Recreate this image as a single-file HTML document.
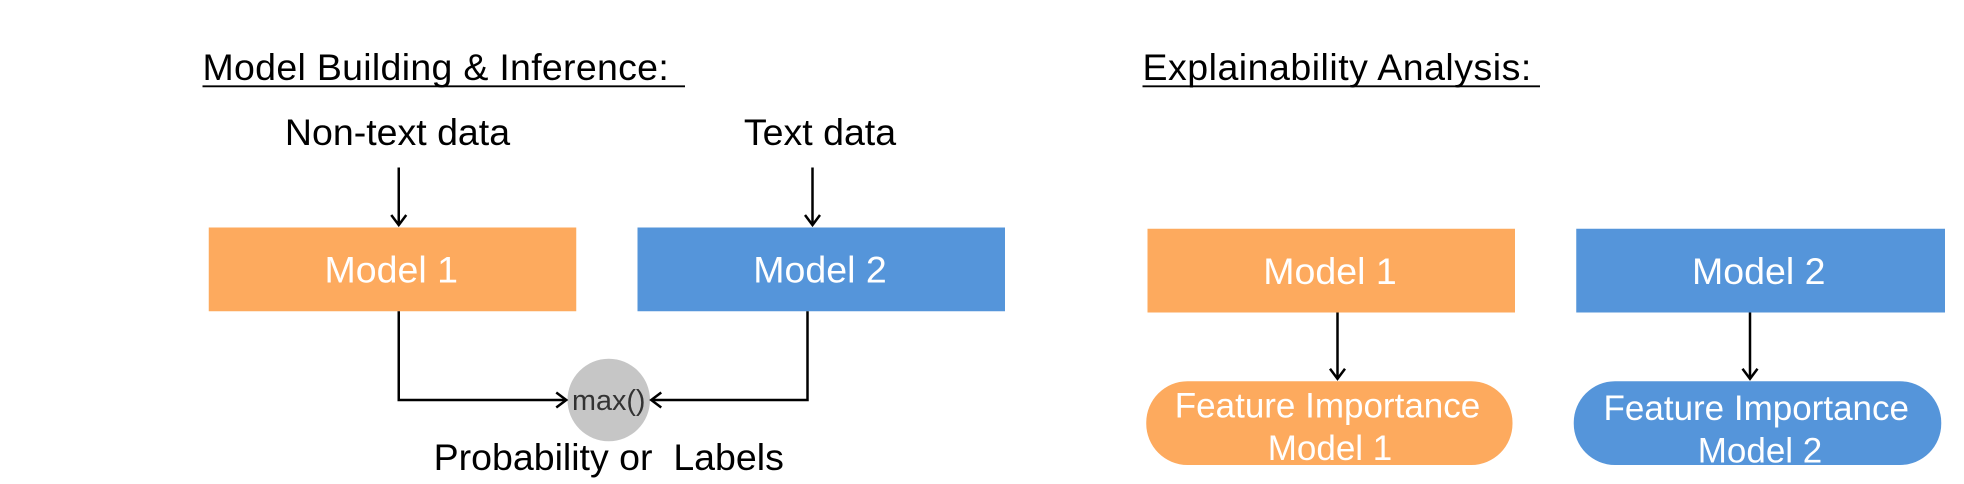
<!DOCTYPE html>
<html><head><meta charset="utf-8"><style>html,body{margin:0;padding:0;background:#fff;width:1964px;height:484px;overflow:hidden}</style></head>
<body>
<svg width="1964" height="484" viewBox="0 0 1571.2 387.2" xmlns="http://www.w3.org/2000/svg" font-family="Liberation Sans, sans-serif">
<defs><marker id="a" markerWidth="14" markerHeight="14" refX="10" refY="7" orient="auto" markerUnits="userSpaceOnUse"><path d="M2,1 L10,7 L2,13" fill="none" stroke="#000" stroke-width="2"/></marker></defs>
<text x="162" y="64" font-size="30" textLength="373">Model Building &amp; Inference:</text>
<line x1="162" y1="69" x2="548" y2="69" stroke="#000" stroke-width="1.5"/>
<text x="914" y="64" font-size="30" textLength="311">Explainability Analysis:</text>
<line x1="914" y1="69" x2="1232" y2="69" stroke="#000" stroke-width="1.5"/>
<text x="318" y="116" font-size="30" text-anchor="middle">Non-text data</text>
<text x="656" y="116" font-size="30" text-anchor="middle">Text data</text>
<line x1="319" y1="134" x2="319" y2="180" stroke="#000" stroke-width="2" marker-end="url(#a)"/>
<line x1="650" y1="134" x2="650" y2="180" stroke="#000" stroke-width="2" marker-end="url(#a)"/>
<rect x="167" y="182" width="294" height="67" fill="#FDAA5E"/>
<rect x="510" y="182" width="294" height="67" fill="#5595DA"/>
<text x="313" y="226" font-size="30" fill="#fff" text-anchor="middle">Model 1</text>
<text x="656" y="226" font-size="30" fill="#fff" text-anchor="middle">Model 2</text>
<circle cx="487" cy="320" r="33" fill="#C6C6C6"/>
<text x="487" y="328" font-size="23" fill="#333" text-anchor="middle">max()</text>
<polyline points="319,249 319,320 453,320" fill="none" stroke="#000" stroke-width="2" marker-end="url(#a)"/>
<polyline points="646,249 646,320 521,320" fill="none" stroke="#000" stroke-width="2" marker-end="url(#a)"/>
<text x="487" y="376" font-size="30" text-anchor="middle" xml:space="preserve">Probability or  Labels</text>
<rect x="918" y="183" width="294" height="67" fill="#FDAA5E"/>
<rect x="1261" y="183" width="295" height="67" fill="#5595DA"/>
<text x="1064" y="227" font-size="30" fill="#fff" text-anchor="middle">Model 1</text>
<text x="1407" y="227" font-size="30" fill="#fff" text-anchor="middle">Model 2</text>
<line x1="1070" y1="250" x2="1070" y2="303" stroke="#000" stroke-width="2" marker-end="url(#a)"/>
<line x1="1400" y1="250" x2="1400" y2="303" stroke="#000" stroke-width="2" marker-end="url(#a)"/>
<rect x="917" y="305" width="293" height="67" rx="33" fill="#FDAA5E"/>
<rect x="1259" y="305" width="294" height="67" rx="33" fill="#5595DA"/>
<text x="1062" y="334" font-size="28" fill="#fff" text-anchor="middle">Feature Importance</text>
<text x="1064" y="368" font-size="28" fill="#fff" text-anchor="middle">Model 1</text>
<text x="1405" y="336" font-size="28" fill="#fff" text-anchor="middle">Feature Importance</text>
<text x="1408" y="370" font-size="28" fill="#fff" text-anchor="middle">Model 2</text>
</svg>
</body></html>
